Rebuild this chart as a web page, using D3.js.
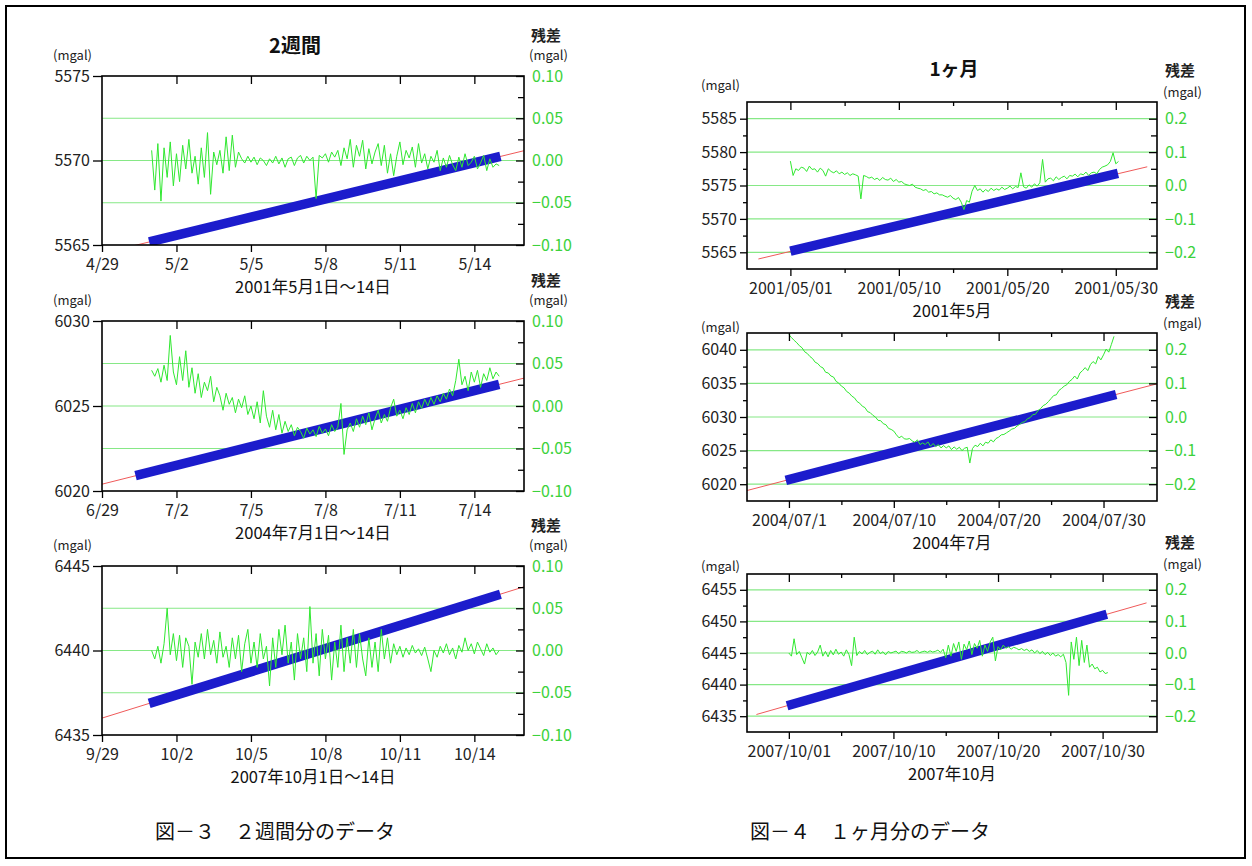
<!DOCTYPE html>
<html>
<head>
<meta charset="utf-8">
<script src="https://cdn.jsdelivr.net/npm/d3@7"></script>
<style>
  body { margin: 0; background: #fff; }
  svg { font-family: "Noto Sans CJK JP", "Noto Sans", sans-serif; }
</style>
</head>
<body>
<svg id="chart" width="1252" height="866"></svg>
<script>
// ---- data ----
const twoWeekTitle = "2週間";
const monthTitle = "1ヶ月";
const twoWeekSubLabels = ["2001年5月1日～14日", "2004年7月1日～14日", "2007年10月1日～14日"];
const monthSubLabels = ["2001年5月", "2004年7月", "2007年10月"];
const captions = ["図－３　２週間分のデータ", "図－４　１ヶ月分のデータ"];

// x in days (two week: from 4/29 0h, month: from the 1st)
const twoWeekTickDays = [0, 3, 6, 9, 12, 15];
const twoWeekTickLabels = [
  ["4/29", "5/2", "5/5", "5/8", "5/11", "5/14"],
  ["6/29", "7/2", "7/5", "7/8", "7/11", "7/14"],
  ["9/29", "10/2", "10/5", "10/8", "10/11", "10/14"]
];
const monthTickDays = [0, 10, 20, 30];
const monthMinorDays = [5, 15, 25];
const monthTickLabels = [
  ["2001/05/01", "2001/05/10", "2001/05/20", "2001/05/30"],
  ["2004/07/1", "2004/07/10", "2004/07/20", "2004/07/30"],
  ["2007/10/01", "2007/10/10", "2007/10/20", "2007/10/30"]
];

// gravity axis (mgal)
const twoWeekGravityRange = [[5565, 5575], [6020, 6030], [6435, 6445]];
const twoWeekGravityTicks = [[5565, 5570, 5575], [6020, 6025, 6030], [6435, 6440, 6445]];
const monthGravityRange = [[5562.5, 5587.5], [6017.5, 6042.5], [6432.5, 6457.5]];
const monthGravityTicks = [
  [5565, 5570, 5575, 5580, 5585],
  [6020, 6025, 6030, 6035, 6040],
  [6435, 6440, 6445, 6450, 6455]
];
const monthGravityMinor = [
  [5567.5, 5572.5, 5577.5, 5582.5],
  [6022.5, 6027.5, 6032.5, 6037.5],
  [6437.5, 6442.5, 6447.5, 6452.5]
];

// residual axis (mgal)
const twoWeekResidualRange = [-0.10, 0.10];
const twoWeekResidualTicks = [-0.10, -0.05, 0.00, 0.05, 0.10];
const twoWeekResidualMinor = [-0.075, -0.025, 0.025, 0.075];
const twoWeekGrid = [-0.05, 0.00, 0.05];
const monthResidualRange = [-0.25, 0.25];
const monthResidualTicks = [-0.2, -0.1, 0.0, 0.1, 0.2];
const monthResidualMinor = [-0.15, -0.05, 0.05, 0.15];
const monthGrid = [-0.2, -0.1, 0.0, 0.1, 0.2];

// observed gravity (blue) [day, mgal]
const twoWeekObserved = [
  [[1.9, 5565.18], [16.05, 5570.24]],
  [[1.35, 6020.9], [16.0, 6026.27]],
  [[1.9, 6436.87], [16.05, 6443.33]]
];
const monthObserved = [
  [[0.0, 5565.16], [30.2, 5576.8]],
  [[-0.3, 6020.56], [31.2, 6033.35]],
  [[-0.17, 6436.66], [30.4, 6451.13]]
];
// fitted drift line (red) [day, mgal]
const twoWeekFit = [
  [[0, 5564.5], [17, 5570.58]],
  [[0, 6020.4], [17, 6026.64]],
  [[0, 6436.0], [17, 6443.77]]
];
const monthFit = [
  [[-2.95, 5564.0], [32.9, 5577.8]],
  [[-4.0, 6019.06], [35.1, 6034.94]],
  [[-3.1, 6435.27], [34.2, 6452.93]]
];

// residuals (green) in microgal; two week: from day 2, every 3 h
const twoWeekResStart = 2, twoWeekResStep = 0.125;
const residual2001w = [
  12,-35,20,-48,15,-20,22,-30, 8,-25,18,-10,25,-15,5,-28,
  15,-20,33,-40,10,-5,12,-15, 28,-12,30,-8,10,2,-3,5,
  -2,4,-5,3,0,-6,2,-3, 5,-4,3,-8,2,4,-6,3,
  6,-3,5,0,4,-45,6,3, 8,-2,10,4,12,-6,15,2,
  25,-8,18,5,24,-10,14,-4, 10,20,-6,18,-15,8,-18,5,
  22,-5,12,3,16,-8,20,-3, 8,-10,5,-2,12,-12,3,-8,
  6,-5,-12,4,-8,8,-6,-2, 5,-10,-3,6,-12,2,-8,-4,
  -6
];
const residual2004w = [
  42,35,44,28,48,30,83,40, 25,58,30,65,22,45,15,38,
  10,28,18,35,5,22,12,-5, 15,2,10,-8,8,-2,12,-10,
  0,-15,5,-20,18,-12,-25,-5, -28,-10,-32,-18,-30,-22,-35,-25,
  -30,-38,-26,-33,-28,-36,-24,-32, -27,-35,-22,-30,-25,3,-57,-28,
  -20,-30,-15,-25,-12,-22,-8,-28, -15,-5,-20,-10,-18,-2,8,-12,
  -5,-15,-2,-10,3,-8,5,-3, 8,0,10,2,12,5,15,8,
  20,12,30,55,25,35,18,40, 28,42,22,38,30,45,32,40,
  35
];
const residual2007w = [
  0,-10,5,-15,8,50,-5,20, -12,18,-20,15,5,-40,10,-8,
  20,-10,25,-5,12,-15,22,-8, 5,-20,15,-10,18,-25,8,25,
  -15,10,-20,20,-10,5,-42,15, -20,25,-5,30,-15,10,-35,20,
  -10,15,-25,52,-15,20,-30,25, -10,18,-35,10,-20,30,-25,15,
  -15,25,-20,20,-10,-30,15,-20, 10,-25,25,-10,15,-15,8,-5,
  5,-8,3,-5,6,-3,2,-6, 4,-10,-25,0,-8,5,-3,8,
  -5,3,-10,6,-2,15,0,8, -4,10,2,-6,8,-2,3,-5,
  0
];
// month: from day 0, every 6 h
const monthResStart = 0, monthResStep = 0.25;
const residual2001m = [
  73,30,50,45, 55,52,42,58, 48,50,40,52, 45,28,50,42,
  38,44,35,40, 33,38,30,35, 32,28,-40,30, 27,22,25,18,
  22,15,24,18, 16,22,12,18, 10,12,5,2, 0,4,-5,-8,
  -10,-15,-12,-20, -18,-25,-22,-28, -28,-32,-35,-30, -38,-42,-36,-50,
  -72,-45,-50,-17, 0,-15,-10,-20, -12,-18,-8,-15, -10,-14,-5,-12,
  -8,-2,-10,-3, -6,38,-4,-8, 2,-5,5,-2, 8,78,10,20,
  22,14,26,18, 24,28,20,30, 28,34,26,35, 32,40,30,38,
  40,35,48,55, 58,62,72,98, 65,72
];
const residual2004m = [
  245,236,228,221, 212,206,194,189, 180,174,163,159, 150,146,133,131,
  122,119,106,101, 92,87,76,71, 62,57,46,41, 32,28,16,13,
  5,0,-10,-11, -20,-23,-34,-37, -42,-53,-62,-57, -65,-66,-64,-71,
  -75,-68,-82,-77, -82,-74,-87,-79, -88,-82,-92,-85, -92,-86,-97,-89,
  -96,-90,-100,-93, -90,-137,-94,-84, -88,-78,-86,-75, -78,-68,-74,-64,
  -60,-53,-52,-47, -42,-36,-34,-27, -22,-16,-14,-5, -2,7,8,19,
  25,34,38,46, 55,64,66,79, 85,92,96,106, 112,122,113,131,
  138,147,138,156, 165,158,180,170, 185,202,193,216, 240
];
const residual2007m = [
  0,-10,45,-5, 5,-15,-35,2, -5,8,-8,3, 25,-10,5,-12,
  8,-6,12,-4, 3,-10,10,-5, -40,50,-8,5, -3,8,-5,2,
  6,-4,10,-2, 4,-6,5,0, 3,6,-2,5, 4,0,6,2,
  3,8,1,4, 6,2,7,3, 5,9,2,12, -15,25,-10,30,
  5,35,-20,28, 10,38,-5,30, 15,40,-10,25, 5,35,50,-25,
  20,10,25,15, 20,12,18,15, 10,14,8,12, 5,10,0,8,
  -2,5,-5,2, -8,0,-10,-5, -12,-4,-30,-134, 35,-20,50,-40,
  40,-30,25,-45, -35,-50,-45,-60, -55,-65,-62
];

// ---- layout ----
const FONT = '"Noto Sans CJK JP", "Noto Sans", sans-serif';
const GREEN_TEXT = "#3cd23c";
const TICK_FONT = 16;
const twoWeekLayout = { left: 102, right: 524, tops: [76, 321, 566], bottoms: [245, 491, 735],
  xDomain: [0, 17], mgalDy: [-21, -21, -21] };
const monthLayout = { left: 747, right: 1157, tops: [102, 333, 574], bottoms: [269, 501, 732],
  xDomains: [[-4, 33.8], [-4, 35.1], [-4, 35.2]], mgalDy: [-17, -6, -8] };

const svg = d3.select("#chart");

svg.append("rect")
  .attr("x", 6).attr("y", 6).attr("width", 1239).attr("height", 852)
  .attr("fill", "none").attr("stroke", "#000").attr("stroke-width", 2);

const residuals = {
  w: [residual2001w, residual2004w, residual2007w],
  m: [residual2001m, residual2004m, residual2007m]
};

const panels = [];
for (let i = 0; i < 3; i++) {
  panels.push({
    id: "w" + i, left: twoWeekLayout.left, right: twoWeekLayout.right,
    top: twoWeekLayout.tops[i], bottom: twoWeekLayout.bottoms[i],
    xDomain: twoWeekLayout.xDomain, gDomain: twoWeekGravityRange[i], gTicks: twoWeekGravityTicks[i],
    gMinor: [], rDomain: twoWeekResidualRange, rTicks: twoWeekResidualTicks, rMinor: twoWeekResidualMinor,
    rFmt: ".2f", grid: twoWeekGrid, xTicks: twoWeekTickDays, xLabels: twoWeekTickLabels[i], xMinor: [],
    xTop: twoWeekTickDays.slice(1), obs: twoWeekObserved[i], fit: twoWeekFit[i],
    res: residuals.w[i], resStart: twoWeekResStart, resStep: twoWeekResStep,
    sub: twoWeekSubLabels[i], mgalDy: twoWeekLayout.mgalDy[i], mgalX: 92, gTickLen: 9,
    rLabel: [twoWeekLayout.right + 5, -40, -21]
  });
}
for (let i = 0; i < 3; i++) {
  panels.push({
    id: "m" + i, left: monthLayout.left, right: monthLayout.right,
    top: monthLayout.tops[i], bottom: monthLayout.bottoms[i],
    xDomain: monthLayout.xDomains[i], gDomain: monthGravityRange[i], gTicks: monthGravityTicks[i],
    gMinor: monthGravityMinor[i], rDomain: monthResidualRange, rTicks: monthResidualTicks, rMinor: monthResidualMinor,
    rFmt: ".1f", grid: monthGrid, xTicks: monthTickDays, xLabels: monthTickLabels[i], xMinor: monthMinorDays,
    xTop: monthTickDays, obs: monthObserved[i], fit: monthFit[i],
    res: residuals.m[i], resStart: monthResStart, resStep: monthResStep,
    sub: monthSubLabels[i], mgalDy: monthLayout.mgalDy[i], mgalX: 740, gTickLen: 7,
    rLabel: [monthLayout.right + 6, -31, -10]
  });
}

function styleAxis(sel, size, color) {
  sel.attr("font-family", FONT).attr("font-size", size);
  sel.select(".domain").remove();
  sel.selectAll(".tick line").attr("stroke", "#000").attr("stroke-width", 1.3);
  sel.selectAll(".tick text").attr("fill", color || "#222");
}

function drawPanel(p) {
  const x = d3.scaleLinear().domain(p.xDomain).range([p.left, p.right]);
  const y = d3.scaleLinear().domain(p.gDomain).range([p.bottom, p.top]);
  const yr = d3.scaleLinear().domain(p.rDomain).range([p.bottom, p.top]);
  const g = svg.append("g");

  g.append("clipPath").attr("id", "clip-" + p.id).append("rect")
    .attr("x", p.left).attr("y", p.top)
    .attr("width", p.right - p.left).attr("height", p.bottom - p.top);
  const plot = g.append("g").attr("clip-path", "url(#clip-" + p.id + ")");

  // green grid lines on the residual scale
  plot.selectAll("line.grid").data(p.grid).join("line")
    .attr("class", "grid")
    .attr("x1", p.left).attr("x2", p.right)
    .attr("y1", d => yr(d)).attr("y2", d => yr(d))
    .attr("stroke", "#86e886").attr("stroke-width", 1.2);

  const gravLine = d3.line().x(d => x(d[0])).y(d => y(d[1]));
  plot.append("path").attr("d", gravLine(p.fit))
    .attr("fill", "none").attr("stroke", "#f05a5a").attr("stroke-width", 1);
  plot.append("path").attr("d", gravLine(p.obs))
    .attr("fill", "none").attr("stroke", "#1c1ccc").attr("stroke-width", 9.5);

  const resPts = p.res.map((v, i) => [p.resStart + i * p.resStep, v / 1000]);
  plot.append("path")
    .attr("d", d3.line().x(d => x(d[0])).y(d => yr(d[1]))(resPts))
    .attr("fill", "none").attr("stroke", "#30e830").attr("stroke-width", 1);

  // axes
  g.append("g").attr("transform", `translate(${p.left},0)`)
    .call(d3.axisLeft(y).tickValues(p.gTicks).tickSize(p.gTickLen).tickPadding(3).tickFormat(d3.format("d")))
    .call(s => styleAxis(s, TICK_FONT));
  if (p.gMinor.length) {
    g.append("g").attr("transform", `translate(${p.left},0)`)
      .call(d3.axisLeft(y).tickValues(p.gMinor).tickSize(4).tickFormat(""))
      .call(s => styleAxis(s, 14));
  }
  g.append("g").attr("transform", `translate(${p.right},0)`)
    .call(d3.axisRight(yr).tickValues(p.rTicks).tickSize(-8).tickPadding(8).tickFormat(d3.format(p.rFmt)))
    .call(s => styleAxis(s, TICK_FONT, GREEN_TEXT));
  g.append("g").attr("transform", `translate(${p.right},0)`)
    .call(d3.axisRight(yr).tickValues(p.rMinor).tickSize(-6).tickFormat(""))
    .call(s => styleAxis(s, 14));
  g.append("g").attr("transform", `translate(0,${p.bottom})`)
    .call(d3.axisBottom(x).tickValues(p.xTicks).tickSize(7).tickPadding(7).tickFormat((d, i) => p.xLabels[i]))
    .call(s => styleAxis(s, TICK_FONT));
  if (p.xMinor.length) {
    g.append("g").attr("transform", `translate(0,${p.bottom})`)
      .call(d3.axisBottom(x).tickValues(p.xMinor).tickSize(4).tickFormat(""))
      .call(s => styleAxis(s, 14));
    g.append("g").attr("transform", `translate(0,${p.top})`)
      .call(d3.axisTop(x).tickValues(p.xMinor).tickSize(-4).tickFormat(""))
      .call(s => styleAxis(s, 14));
  }
  g.append("g").attr("transform", `translate(0,${p.top})`)
    .call(d3.axisTop(x).tickValues(p.xTop).tickSize(-8).tickFormat(""))
    .call(s => styleAxis(s, 14));

  g.append("rect")
    .attr("x", p.left).attr("y", p.top)
    .attr("width", p.right - p.left).attr("height", p.bottom - p.top)
    .attr("fill", "none").attr("stroke", "#000").attr("stroke-width", 1.6);

  // labels
  g.append("text").attr("x", p.mgalX).attr("y", p.top + p.mgalDy).attr("dy", "0.35em")
    .attr("text-anchor", "end").attr("font-size", 13).attr("fill", "#222").text("(mgal)");
  g.append("text").attr("x", p.rLabel[0] + 2).attr("y", p.top + p.rLabel[1]).attr("dy", "0.35em")
    .attr("font-size", 15).attr("font-weight", "bold").attr("fill", "#222").text("残差");
  g.append("text").attr("x", p.rLabel[0]).attr("y", p.top + p.rLabel[2]).attr("dy", "0.35em")
    .attr("font-size", 13).attr("fill", "#222").text("(mgal)");
  g.append("text").attr("x", (p.left + p.right) / 2).attr("y", p.bottom + 42).attr("dy", "0.35em")
    .attr("text-anchor", "middle").attr("font-size", 16.5).attr("fill", "#111").text(p.sub);
}

panels.forEach(drawPanel);

// titles
svg.append("text").attr("x", 295).attr("y", 46).attr("dy", "0.35em").attr("text-anchor", "middle")
  .attr("font-size", 20).attr("font-weight", "bold").attr("fill", "#111").text(twoWeekTitle);
svg.append("text").attr("x", 954).attr("y", 69).attr("dy", "0.35em").attr("text-anchor", "middle")
  .attr("font-size", 19).attr("font-weight", "bold").attr("fill", "#111").text(monthTitle);

// figure captions
svg.append("text").attr("x", 155).attr("y", 832).attr("dy", "0.35em")
  .attr("font-size", 20).attr("fill", "#111").text(captions[0]);
svg.append("text").attr("x", 750).attr("y", 832).attr("dy", "0.35em")
  .attr("font-size", 20).attr("fill", "#111").text(captions[1]);
</script>
</body>
</html>
